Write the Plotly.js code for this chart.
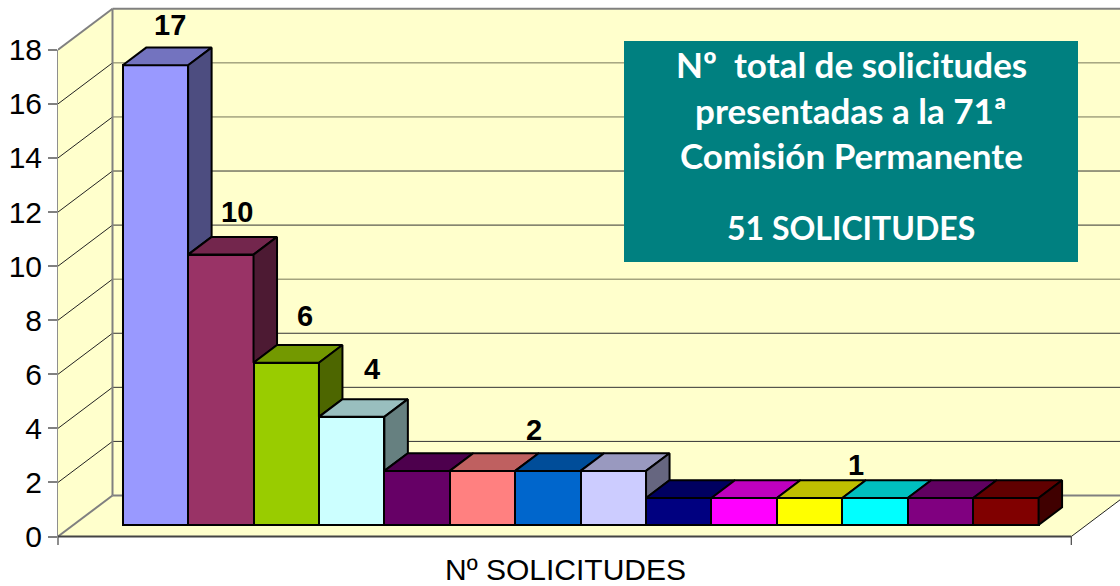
<!DOCTYPE html>
<html>
<head>
<meta charset="utf-8">
<script src="https://cdn.plot.ly/plotly-3.0.1.min.js"></script>
<style>html,body{margin:0;padding:0;background:#fff;overflow:hidden}</style>
</head>
<body>
<div id="chart" style="width:1120px;height:586px"></div>
<script>
// ---- chart data ----
var values = [17, 10, 6, 4, 2, 2, 2, 2, 1, 1, 1, 1, 1, 1];
var colors = ['#9999FF','#993366','#99CC00','#CCFFFF','#660066','#FF8080','#0066CC','#CCCCFF','#000080','#FF00FF','#FFFF00','#00FFFF','#800080','#800000'];
var yTicks = [0, 2, 4, 6, 8, 10, 12, 14, 16, 18];
var labelTexts = ['17', '10', '6', '4', '2', '1'];
var labelPixelX = [170, 237, 305, 372, 534, 856];
var labelPixelY = [25, 212, 316, 369, 430, 465];
var boxLines = ['Nº  total de solicitudes', 'presentadas a la 71ª', 'Comisión Permanente', '51 SOLICITUDES'];
var boxLinePixelY = [64, 110, 155, 227];
var boxLineSizes = [35, 35, 35, 32];
var xTitle = 'Nº SOLICITUDES';

// ---- pseudo-3D geometry (pixel scale of the axes) ----
var PX_PER_CAT = 65.42, PX_PER_VAL = 27.04, X0_PX = 155.4, Y0_PX = 536.5;
function X(px) { return (px - X0_PX) / PX_PER_CAT; }
function Y(py) { return (Y0_PX - py) / PX_PER_VAL; }
var wallL = X(58), floorR = X(1071.3);
var wallDX = 54.5 / PX_PER_CAT, wallDY = 41 / PX_PER_VAL;
var barBase = 11.5 / PX_PER_VAL;
var barDX = 23.5 / PX_PER_CAT, barDY = 17.7 / PX_PER_VAL;

function shade(hex, f) {
  var n = parseInt(hex.slice(1), 16);
  var r = Math.round(((n >> 16) & 255) * f), g = Math.round(((n >> 8) & 255) * f), b = Math.round((n & 255) * f);
  return 'rgb(' + r + ',' + g + ',' + b + ')';
}
function poly(pts) {
  return 'M' + pts.map(function (p) { return p[0] + ',' + p[1]; }).join(' L') + ' Z';
}
function line(x0, y0, x1, y1, color, width) {
  return { type: 'line', layer: 'below', xref: 'x', yref: 'y', x0: x0, y0: y0, x1: x1, y1: y1, line: { color: color, width: width } };
}

// ---- walls, floor, grid ----
var WALL = '#FFFFCC', EDGE = '#808080';
var yMax = 18;
var backL = wallL + wallDX, rightEnd = X(1135);
var shapes = [
  { type: 'path', layer: 'below', xref: 'x', yref: 'y', line: { width: 0 }, fillcolor: WALL,
    path: poly([[wallL, 0], [wallL, yMax], [backL, yMax + wallDY], [backL, wallDY]]) },
  { type: 'path', layer: 'below', xref: 'x', yref: 'y', line: { width: 0 }, fillcolor: WALL,
    path: poly([[backL, wallDY], [backL, yMax + wallDY], [rightEnd, yMax + wallDY], [rightEnd, wallDY]]) },
  { type: 'path', layer: 'below', xref: 'x', yref: 'y', line: { width: 0 }, fillcolor: WALL,
    path: poly([[wallL, 0], [floorR, 0], [floorR + wallDX, wallDY], [backL, wallDY]]) }
];
yTicks.forEach(function (t) {
  if (t === 0 || t === yMax) return;
  shapes.push(line(wallL, t, backL, t + wallDY, '#222', 1));
  shapes.push(line(backL, t + wallDY, rightEnd, t + wallDY, t >= 14 || t === 8 ? '#77775a' : '#333', 1));
});
shapes.push(line(backL, wallDY, backL, yMax + wallDY, EDGE, 2));
shapes.push(line(backL, yMax + wallDY, rightEnd, yMax + wallDY, EDGE, 2));
shapes.push(line(wallL, yMax, backL, yMax + wallDY, EDGE, 2));
shapes.push(line(wallL, 0, backL, wallDY, EDGE, 2));
shapes.push(line(backL, wallDY, rightEnd, wallDY, EDGE, 2));
shapes.push({ type: 'line', layer: 'below', xref: 'paper', yref: 'y', x0: 0, x1: 0, y0: Y(545), y1: yMax, line: { color: '#444', width: 1.2 } });
shapes.push(line(wallL, 0, floorR, 0, '#444', 2));
shapes.push(line(floorR, 0, floorR + wallDX, wallDY, '#222', 1));
shapes.push(line(floorR, 0, floorR, Y(545), '#444', 1.2));

// teal box
shapes.push({ type: 'rect', layer: 'above', xref: 'x', yref: 'y',
  x0: X(624), x1: X(1078), y0: Y(262), y1: Y(41), fillcolor: '#008080', line: { width: 0 } });

// ---- traces: front faces as bars, top and side faces as filled polygons ----
var idx = values.map(function (_, i) { return i; });
var traces = [{
  type: 'bar', x: idx, y: values, base: idx.map(function () { return barBase; }), width: 1,
  marker: { color: colors, line: { color: '#000', width: 2 } }, hoverinfo: 'y', showlegend: false
}];
function face(pts, color) {
  return { type: 'scatter', mode: 'lines', x: pts.map(function (p) { return p[0]; }), y: pts.map(function (p) { return p[1]; }),
    fill: 'toself', fillcolor: color, line: { color: '#000', width: 2 }, hoverinfo: 'skip', showlegend: false };
}
values.forEach(function (v, i) {
  var T = v + barBase, l = i - 0.5, r = i + 0.5;
  var nextT = i + 1 < values.length ? values[i + 1] + barBase : barBase;
  traces.push(face([[l, T], [r, T], [r + barDX, T + barDY], [l + barDX, T + barDY], [l, T]], shade(colors[i], 0.75)));
  if (T > nextT) {
    traces.push(face([[r, T], [r + barDX, T + barDY], [r + barDX, nextT + barDY], [r, nextT], [r, T]], shade(colors[i], 0.5)));
  }
});

// ---- text ----
var annotations = [];
labelTexts.forEach(function (t, i) {
  annotations.push({ text: '<b>' + t + '</b>', x: X(labelPixelX[i]), y: Y(labelPixelY[i]), xref: 'x', yref: 'y', showarrow: false,
    xanchor: 'center', yanchor: 'middle', font: { family: 'Liberation Sans, Arial, sans-serif', size: 29, color: '#000' } });
});
boxLines.forEach(function (t, i) {
  annotations.push({ text: '<b>' + t + '</b>', x: X(851), y: Y(boxLinePixelY[i]), xref: 'x', yref: 'y', showarrow: false,
    xanchor: 'center', yanchor: 'middle', font: { family: 'Lato, Carlito, sans-serif', size: boxLineSizes[i], color: '#fff' } });
});
annotations.push({ text: xTitle, x: X(565), y: 0, xref: 'x', yref: 'paper', yshift: -23, showarrow: false,
  xanchor: 'center', yanchor: 'middle', font: { family: 'Liberation Sans, Arial, sans-serif', size: 30, color: '#000' } });

var layout = {
  width: 1120, height: 586,
  margin: { l: 58, r: 0, t: 0, b: 40, pad: 0 },
  paper_bgcolor: '#fff', plot_bgcolor: '#fff',
  showlegend: false, bargap: 0,
  xaxis: { range: [wallL, X(1120)], showgrid: false, zeroline: false, showline: false, showticklabels: false, ticks: '', fixedrange: true },
  yaxis: { range: [Y(546), Y(0)], tickmode: 'array', tickvals: yTicks, ticktext: yTicks.map(String), ticks: 'outside', ticklen: 9, tickwidth: 1.5, tickcolor: '#808080',
    showgrid: false, zeroline: false, showline: false, fixedrange: true,
    tickfont: { family: 'Liberation Sans, Arial, sans-serif', size: 30, color: '#000' } },
  shapes: shapes,
  annotations: annotations
};
Plotly.newPlot('chart', traces, layout, { displayModeBar: false, responsive: false });
</script>
</body>
</html>
